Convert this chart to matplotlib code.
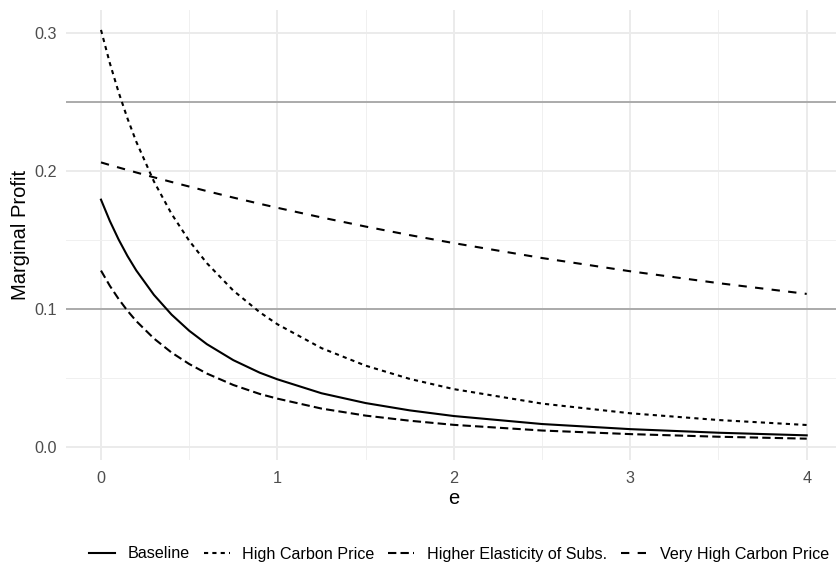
import matplotlib
matplotlib.use("Agg")
import matplotlib.pyplot as plt
from matplotlib.ticker import MultipleLocator

plt.rcParams['font.family'] = ['Liberation Sans', 'DejaVu Sans']

# values
e = [0, 0.05, 0.1, 0.15, 0.2, 0.3, 0.4, 0.5, 0.6, 0.75,
     0.9, 1, 1.25, 1.5, 1.75, 2, 2.5, 3, 3.5, 4]
baseline = [0.179, 0.1636, 0.1501, 0.1382, 0.1277, 0.110, 0.0957, 0.0840, 0.0743, 0.0627,
            0.0536, 0.0488, 0.0387, 0.0316, 0.0263, 0.0222, 0.0164, 0.0127, 0.0101, 0.0082]
high_carbon = [0.302, 0.2780, 0.2568, 0.2379, 0.2210, 0.1922, 0.1687, 0.1492, 0.1330, 0.1131,
               0.0974, 0.0887, 0.0714, 0.0587, 0.0491, 0.0417, 0.0312, 0.0242, 0.0193, 0.0157]
higher_elast = [0.1276, 0.1166, 0.1070, 0.0985, 0.0910, 0.0784, 0.0682, 0.0599, 0.0530, 0.0447,
                0.0382, 0.0348, 0.0276, 0.0225, 0.0188, 0.0158, 0.0117, 0.0091, 0.0072, 0.0058]
very_high_carbon = [0.206, 0.2041, 0.2023, 0.2005, 0.1987, 0.1952, 0.1918, 0.1885, 0.1852, 0.1805,
                    0.1760, 0.1731, 0.1661, 0.1595, 0.1533, 0.1475, 0.1367, 0.1271, 0.1185, 0.1107]
ref_lines = [0.1, 0.25]

series = [
    ('Baseline', baseline, '-'),
    ('High Carbon Price', high_carbon, (0, (2, 2))),
    ('Higher Elasticity of Subs.', higher_elast, (0, (4, 2))),
    ('Very High Carbon Price', very_high_carbon, (0, (4, 4))),
]

W, H = 836, 567
fig = plt.figure(figsize=(W / 100, H / 100), dpi=100)
# panel runs a little past the right edge (reference is cropped there)
left, right, top, bottom = 65.7, 842.0, 9.5, 459.5
ax = fig.add_axes([left / W, 1 - bottom / H, (right - left) / W, (bottom - top) / H])

ax.set_xlim(-0.2, 4.2)
ax.set_ylim(-0.0093, 0.3168)

# ggplot-style minimal grid
ax.xaxis.set_major_locator(MultipleLocator(1))
ax.xaxis.set_minor_locator(MultipleLocator(0.5))
ax.yaxis.set_major_locator(MultipleLocator(0.1))
ax.yaxis.set_minor_locator(MultipleLocator(0.05))
ax.grid(True, which='major', color='#EBEBEB', linewidth=1.4)
ax.grid(True, which='minor', color='#F0F0F0', linewidth=0.7)
ax.set_axisbelow(True)
for s in ax.spines.values():
    s.set_visible(False)

for y in ref_lines:
    ax.axhline(y, color='#ABABAB', linewidth=1.4, zorder=1.5)

for name, vals, ls in series:
    ax.plot(e, vals, color='black', linestyle=ls, linewidth=1.5, label=name, zorder=3)

ax.set_xticks([0, 1, 2, 3, 4])
ax.set_xticklabels(['0', '1', '2', '3', '4'])
ax.set_yticks([0.0, 0.1, 0.2, 0.3])
ax.set_yticklabels(['0.0', '0.1', '0.2', '0.3'])
ax.tick_params(which='both', length=0, labelsize=11.7, labelcolor='#4D4D4D')
ax.tick_params(axis='x', pad=8.3)
ax.tick_params(axis='y', pad=6.5)

ax.set_xlabel('e', fontsize=14.5)
ax.set_ylabel('Marginal Profit', fontsize=14.5)
ax.xaxis.set_label_coords(0.5, -0.065)
ax.yaxis.set_label_coords(-0.046, 0.5)

fig.legend(loc='center left', bbox_to_anchor=(89.3 / W, 1 - 554 / H),
           ncol=4, frameon=False, fontsize=11.6, handlelength=1.6,
           handletextpad=0.8, columnspacing=0.85, borderpad=0, borderaxespad=0)

fig.savefig('out.png', dpi=100)
